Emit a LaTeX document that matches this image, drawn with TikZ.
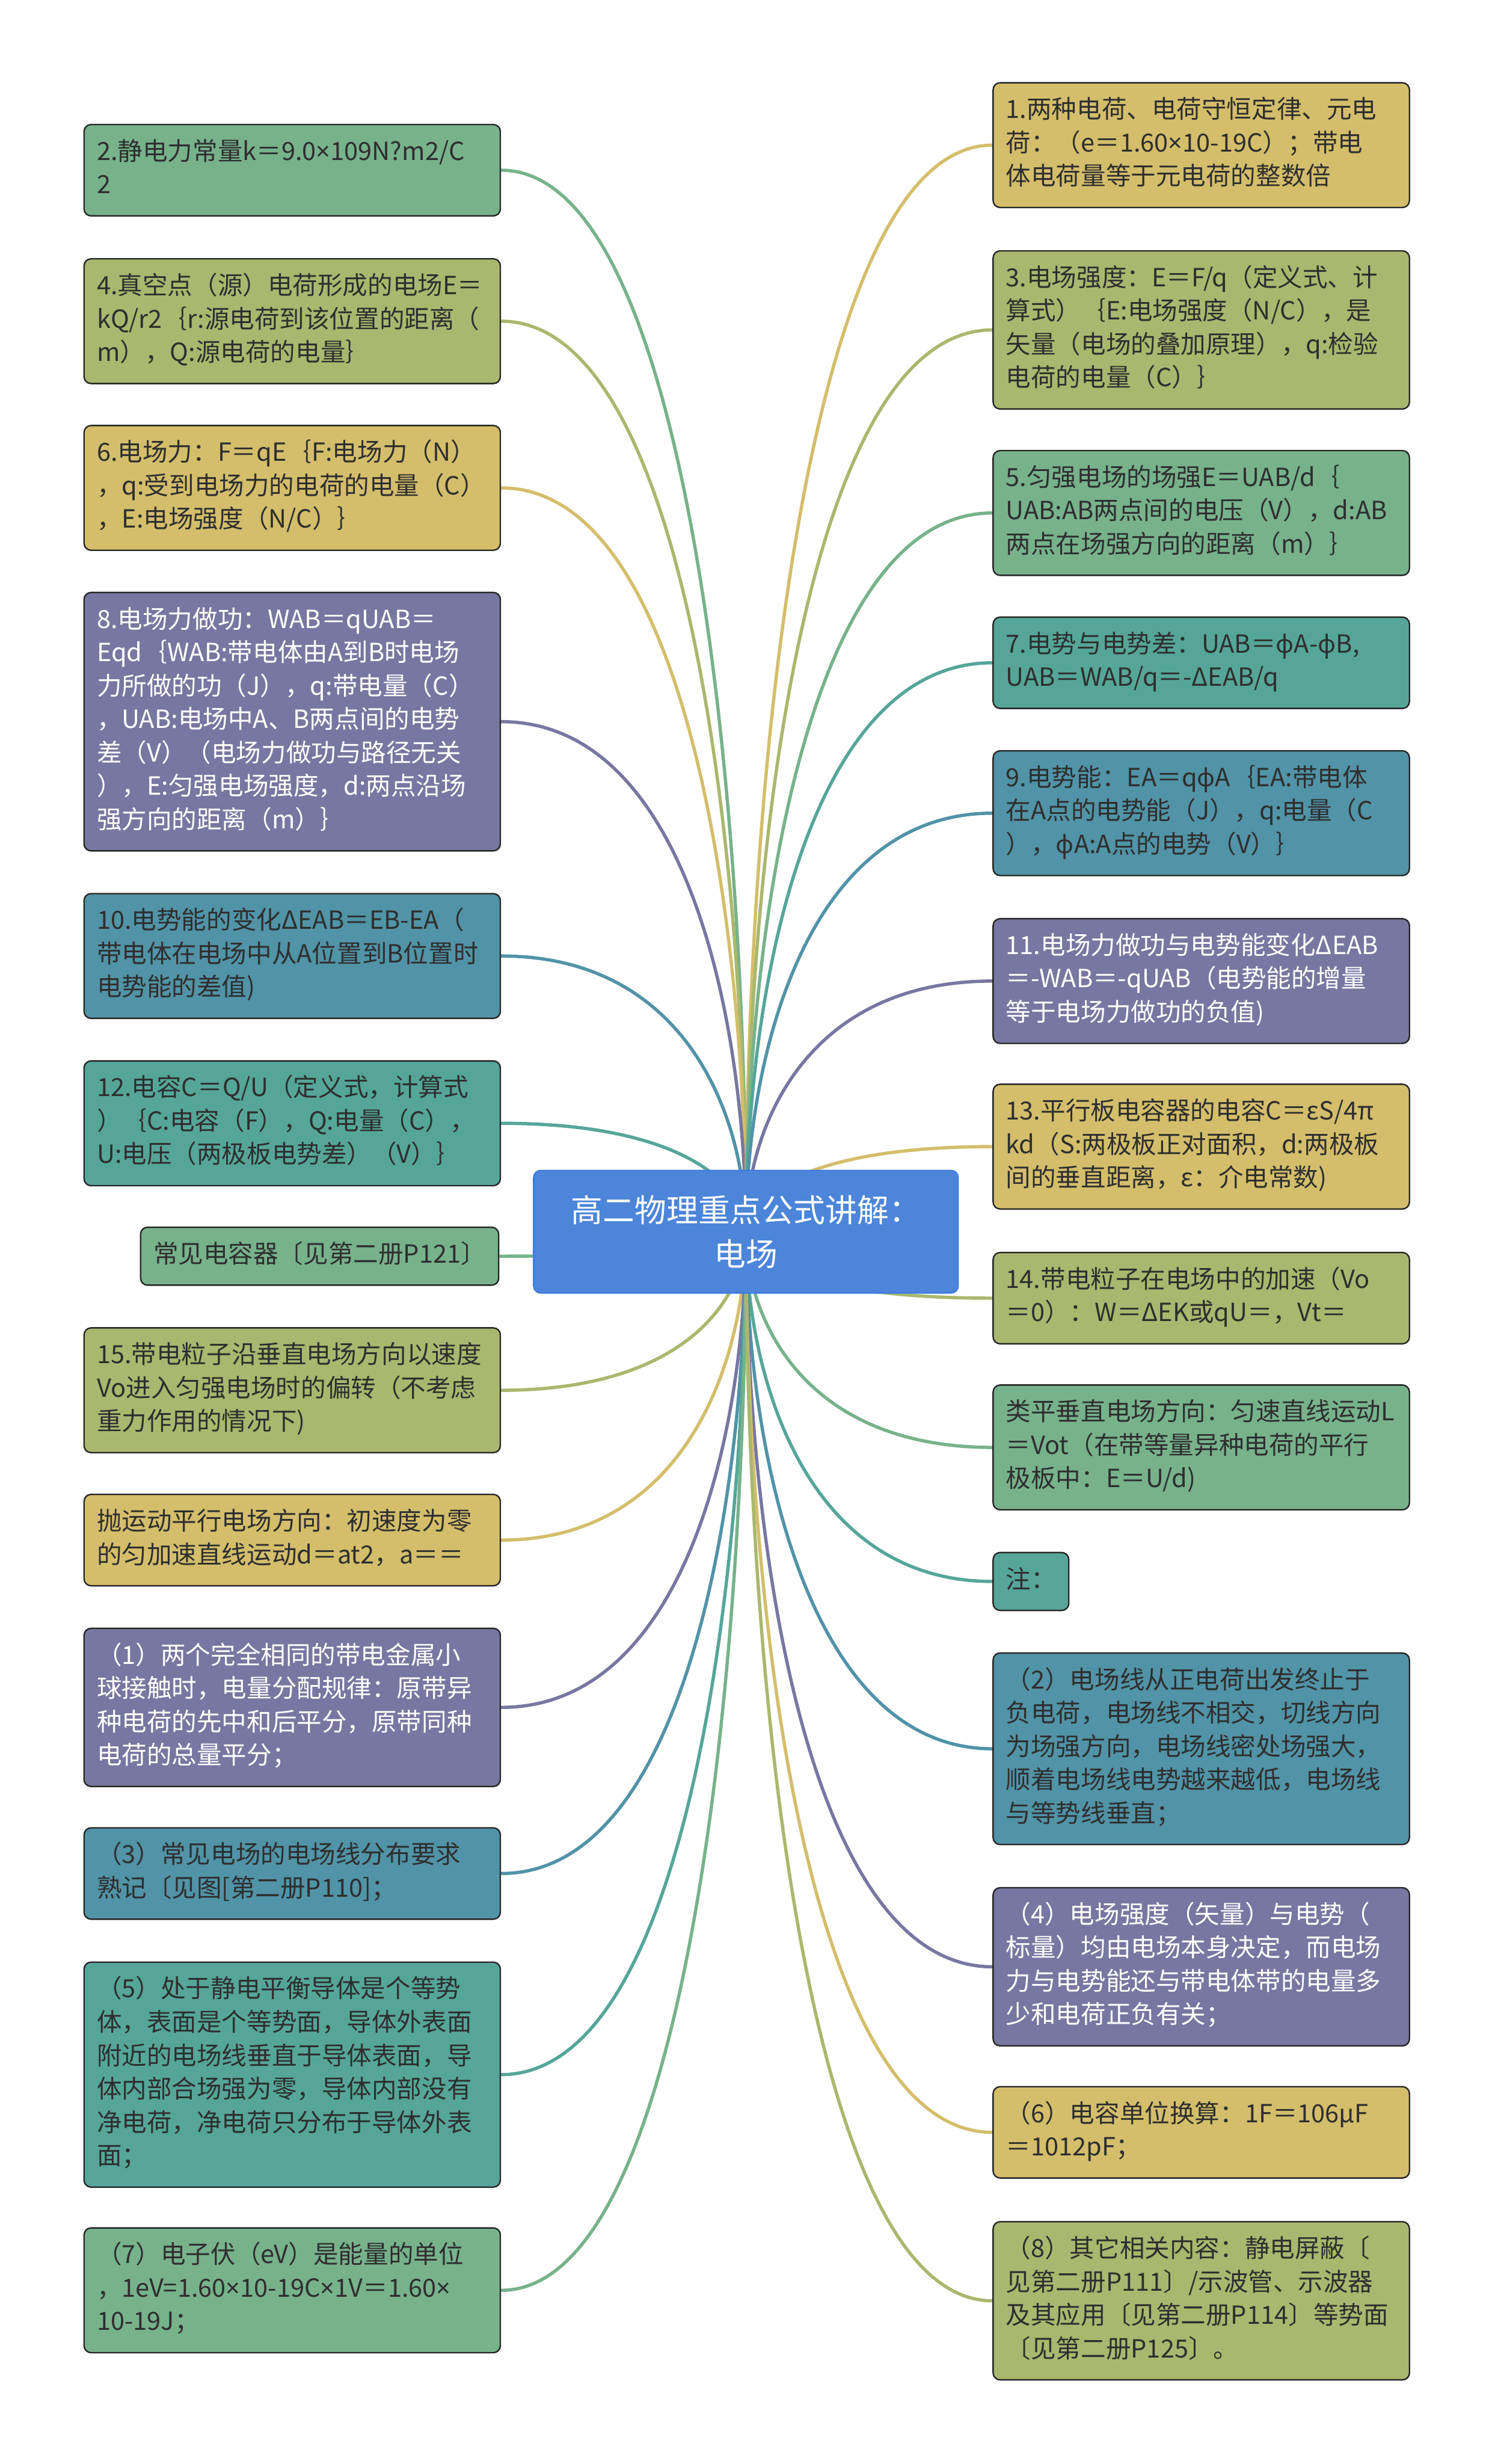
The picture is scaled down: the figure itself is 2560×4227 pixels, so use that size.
\documentclass[tikz,border=0pt]{standalone}
\usepackage{fontspec}
\setmainfont{Noto Sans CJK SC}
\newfontfamily\symfont{Noto Sans}
\newcommand{\tms}{{\symfont ×}}
\newcommand{\phv}{{\symfont φ}}
\usetikzlibrary{calc,backgrounds}

\definecolor{cG}{HTML}{77B28B}
\definecolor{cO}{HTML}{A9B86E}
\definecolor{cY}{HTML}{D4BE6B}
\definecolor{cP}{HTML}{7877A1}
\definecolor{cB}{HTML}{5193A7}
\definecolor{cT}{HTML}{55A699}
\definecolor{cHub}{HTML}{4C85D9}
\definecolor{cHubLine}{HTML}{3E7BE0}
\definecolor{ink}{HTML}{2E2E2E}

\tikzset{
  box/.style={draw=black!85, line width=0.7pt, rounded corners=0.12cm,
    align=left, inner xsep=0.22cm, inner ysep=0.21cm, text=ink,
    font=\fontsize{12.2pt}{16.3pt}\selectfont,
    execute at begin node=\strut, execute at end node=\strut},
  wbox/.style={box, text width=6.7cm},
  hub/.style={fill=cHub, draw=cHubLine, line width=0.7pt, rounded corners=0.12cm,
    minimum width=7.28cm, minimum height=2.1cm, align=center, text=white,
    font=\fontsize{15.5pt}{21.4pt}\selectfont},
  link/.style={line width=1.6pt}
}

\begin{document}
\begin{tikzpicture}[x=0.01cm, y=-0.01cm]
\useasboundingbox (0,0) rectangle (2560,4227);

% centre
\node[hub] (root) at (1280,2113) {高二物理重点公式讲解：\\电场};

% left column
\node[wbox, fill=cG, anchor=west] (l1) at (143,292) {2.静电力常量k＝9.0\tms109N?m2/C\\2};
\node[wbox, fill=cO, anchor=west] (l2) at (143,551) {4.真空点（源）电荷形成的电场E＝\\kQ/r2｛r:源电荷到该位置的距离（\\m），Q:源电荷的电量｝};
\node[wbox, fill=cY, anchor=west] (l3) at (143,837) {6.电场力：F＝qE｛F:电场力（N）\\，q:受到电场力的电荷的电量（C）\\，E:电场强度（N/C）｝};
\node[wbox, fill=cP, text=white, anchor=west] (l4) at (143,1238) {8.电场力做功：WAB＝qUAB＝\\Eqd｛WAB:带电体由A到B时电场\\力所做的功（J），q:带电量（C）\\，UAB:电场中A、B两点间的电势\\差（V）（电场力做功与路径无关\\），E:匀强电场强度，d:两点沿场\\强方向的距离（m）｝};
\node[wbox, fill=cB, anchor=west] (l5) at (143,1640) {10.电势能的变化ΔEAB＝EB-EA（\\带电体在电场中从A位置到B位置时\\电势能的差值)};
\node[wbox, fill=cT, anchor=west] (l6) at (143,1927) {12.电容C＝Q/U（定义式，计算式\\）｛C:电容（F），Q:电量（C），\\U:电压（两极板电势差）（V）｝};
\node[box, fill=cG, anchor=east] (l7) at (857,2155) {常见电容器〔见第二册P121〕};
\node[wbox, fill=cO, anchor=west] (l8) at (143,2385) {15.带电粒子沿垂直电场方向以速度\\Vo进入匀强电场时的偏转（不考虑\\重力作用的情况下)};
\node[wbox, fill=cY, anchor=west] (l9) at (143,2642) {抛运动平行电场方向：初速度为零\\的匀加速直线运动d＝at2，a＝＝};
\node[wbox, fill=cP, text=white, anchor=west] (l10) at (143,2929) {（1）两个完全相同的带电金属小\\球接触时，电量分配规律：原带异\\种电荷的先中和后平分，原带同种\\电荷的总量平分；};
\node[wbox, fill=cB, anchor=west] (l11) at (143,3214) {（3）常见电场的电场线分布要求\\熟记〔见图[第二册P110]；};
\node[wbox, fill=cT, anchor=west] (l12) at (143,3559) {（5）处于静电平衡导体是个等势\\体，表面是个等势面，导体外表面\\附近的电场线垂直于导体表面，导\\体内部合场强为零，导体内部没有\\净电荷，净电荷只分布于导体外表\\面；};
\node[wbox, fill=cG, anchor=west] (l13) at (143,3929) {（7）电子伏（eV）是能量的单位\\，1eV=1.60\tms10-19C\tms1V＝1.60\tms\\10-19J；};

% right column
\node[wbox, fill=cY, anchor=west] (r1) at (1703,249) {1.两种电荷、电荷守恒定律、元电\\荷：（e＝1.60\tms10-19C）；带电\\体电荷量等于元电荷的整数倍};
\node[wbox, fill=cO, anchor=west] (r2) at (1703,566) {3.电场强度：E＝F/q（定义式、计\\算式）｛E:电场强度（N/C），是\\矢量（电场的叠加原理），q:检验\\电荷的电量（C）｝};
\node[wbox, fill=cG, anchor=west] (r3) at (1703,880) {5.匀强电场的场强E＝UAB/d｛\\UAB:AB两点间的电压（V），d:AB\\两点在场强方向的距离（m）｝};
\node[wbox, fill=cT, anchor=west] (r4) at (1703,1137) {7.电势与电势差：UAB＝\phv A-\phv B,\\UAB＝WAB/q＝-ΔEAB/q};
\node[wbox, fill=cB, anchor=west] (r5) at (1703,1395) {9.电势能：EA＝q\phv A｛EA:带电体\\在A点的电势能（J），q:电量（C\\），\phv A:A点的电势（V）｝};
\node[wbox, fill=cP, text=white, anchor=west] (r6) at (1703,1683) {11.电场力做功与电势能变化ΔEAB\\＝-WAB＝-qUAB（电势能的增量\\等于电场力做功的负值)};
\node[wbox, fill=cY, anchor=west] (r7) at (1703,1967) {13.平行板电容器的电容C＝εS/4π\\kd（S:两极板正对面积，d:两极板\\间的垂直距离，ε：介电常数)};
\node[wbox, fill=cO, anchor=west] (r8) at (1703,2227) {14.带电粒子在电场中的加速（Vo\\＝0）：W＝ΔEK或qU＝，Vt＝};
\node[wbox, fill=cG, anchor=west] (r9) at (1703,2483) {类平垂直电场方向：匀速直线运动L\\＝Vot（在带等量异种电荷的平行\\极板中：E＝U/d)};
\node[box, fill=cT, anchor=west] (r10) at (1703,2713) {注：};
\node[wbox, fill=cB, anchor=west] (r11) at (1703,3000) {（2）电场线从正电荷出发终止于\\负电荷，电场线不相交，切线方向\\为场强方向，电场线密处场强大，\\顺着电场线电势越来越低，电场线\\与等势线垂直；};
\node[wbox, fill=cP, text=white, anchor=west] (r12) at (1703,3374) {（4）电场强度（矢量）与电势（\\标量）均由电场本身决定，而电场\\力与电势能还与带电体带的电量多\\少和电荷正负有关；};
\node[wbox, fill=cY, anchor=west] (r13) at (1703,3658) {（6）电容单位换算：1F＝106μF\\＝1012pF；};
\node[wbox, fill=cO, anchor=west] (r14) at (1703,3947) {（8）其它相关内容：静电屏蔽〔\\见第二册P111〕/示波管、示波器\\及其应用〔见第二册P114〕等势面\\〔见第二册P125〕。};

% connectors
\begin{scope}[on background layer]
\fill[white] (0,0) rectangle (2560,4227);
\foreach \n/\c in {l1/cG,l2/cO,l3/cY,l4/cP,l5/cB,l6/cT,l7/cG,l8/cO,l9/cY,l10/cP,l11/cB,l12/cT,l13/cG}
  \draw[link, draw=\c] (root.center) .. controls ($(root.center)!0.41!(root.center|-\n.east)$) and ($(\n.east)!0.76!(\n.east-|root.center)$) .. (\n.east);
\foreach \n/\c in {r1/cY,r2/cO,r3/cG,r4/cT,r5/cB,r6/cP,r7/cY,r8/cO,r9/cG,r10/cT,r11/cB,r12/cP,r13/cY,r14/cO}
  \draw[link, draw=\c] (root.center) .. controls ($(root.center)!0.41!(root.center|-\n.west)$) and ($(\n.west)!0.76!(\n.west-|root.center)$) .. (\n.west);
\end{scope}
\end{tikzpicture}
\end{document}
